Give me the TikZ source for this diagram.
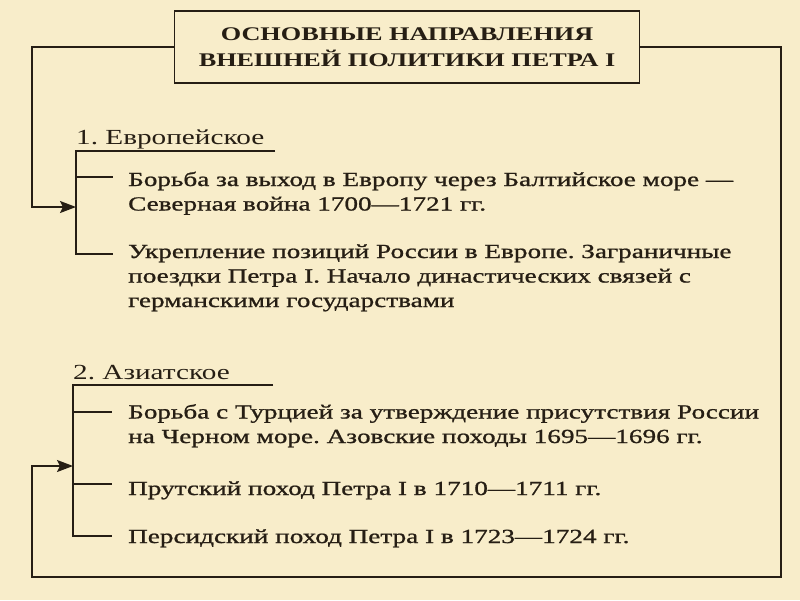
\documentclass[tikz,border=0pt]{standalone}
\usepackage{fontspec}
\setmainfont[FakeStretch=1.36]{Liberation Serif}
\newfontfamily\entryfont[FakeStretch=1.36,FakeBold=1]{Liberation Serif}
\usetikzlibrary{arrows.meta,positioning}
\definecolor{paper}{RGB}{248,237,202}
\definecolor{ink}{RGB}{38,30,20}
\frenchspacing

\begin{document}
\begin{tikzpicture}[x=1pt,y=-1pt]
    % --- Styles ---
    \tikzstyle{frame}=[line width=1.8pt, color=ink]
    \tikzstyle{arrowline}=[frame, -{Stealth[length=16pt,width=12pt,inset=3pt]}]
    \tikzstyle{titlebox}=[draw=ink, line width=1.8pt, minimum width=465pt, minimum height=72pt, inner sep=0pt, align=center, text=ink, font=\bfseries\fontsize{19.3}{26}\selectfont]
    \tikzstyle{head}=[anchor=base west, inner sep=0pt, text=ink, font=\fontsize{21.5}{25}\selectfont]
    \tikzstyle{entry}=[anchor=base west, inner sep=0pt, align=left, text=ink, font=\entryfont\fontsize{20}{24.5}\selectfont]

    % --- Background ---
    \fill[paper] (0,0) rectangle (800,600);

    % --- 1. Title ---
    \node[titlebox] (title) at (407,47) {ОСНОВНЫЕ НАПРАВЛЕНИЯ\\ВНЕШНЕЙ ПОЛИТИКИ ПЕТРА I};

    % --- 2. European direction ---
    \node[head] (eur) at (76,144) {1. Европейское};
    \coordinate (eurtop) at (76,151);
    \coordinate (eurend) at (275,151);
    \coordinate (eurbot) at (76,254);
    \draw[frame] (eurend) -- (eurtop) -- (eurbot) -- ++(37,0);
    \draw[frame] (76,177) -- ++(37,0);

    % multi-line entries sit on the baseline of their last line
    \node[entry] (baltic) at (128,210.5) {Борьба за выход в Европу через Балтийское море —\\Северная война 1700—1721 гг.};
    \node[entry] (west) at (128,307) {Укрепление позиций России в Европе. Заграничные\\поездки Петра I. Начало династических связей с\\германскими государствами};

    % --- 3. Asian direction ---
    \node[head] (asia) at (73,379) {2. Азиатское};
    \coordinate (asiatop) at (73,385);
    \coordinate (asiaend) at (273,385);
    \coordinate (asiabot) at (73,536);
    \draw[frame] (asiaend) -- (asiatop) -- (asiabot) -- ++(39,0);
    \draw[frame] (73,412) -- ++(39,0);
    \draw[frame] (73,484) -- ++(39,0);

    \node[entry] (turkey) at (128,443) {Борьба с Турцией за утверждение присутствия России\\на Черном море. Азовские походы 1695—1696 гг.};
    \node[entry] (prut) at (128,495) {Прутский поход Петра I в 1710—1711 гг.};
    \node[entry] (persia) at (128,543) {Персидский поход Петра I в 1723—1724 гг.};

    % --- 4. Connectors from the title ---
    \coordinate (in1) at (76,207);
    \coordinate (in2) at (73,466);
    \draw[arrowline] (title.west) -- (32,47) -- (32,207) -- (in1);
    \draw[arrowline] (title.east) -- (781,47) -- (781,577) -- (32,577) -- (32,466) -- (in2);
\end{tikzpicture}
\end{document}
